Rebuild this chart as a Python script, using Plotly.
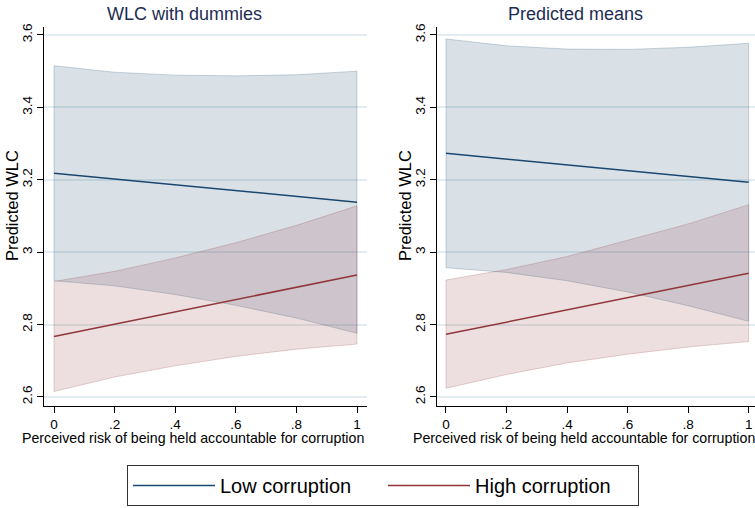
import plotly.graph_objects as go

# ---------------- data ----------------
x_vals = [0, 0.2, 0.4, 0.6, 0.8, 1.0]

# Left panel: "WLC with dummies"
left_low_fit = [3.218, 3.202, 3.186, 3.170, 3.154, 3.138]
left_low_upper = [3.515, 3.497, 3.489, 3.487, 3.490, 3.500]
left_low_lower = [2.921, 2.907, 2.883, 2.853, 2.818, 2.776]
left_high_fit = [2.767, 2.801, 2.835, 2.869, 2.903, 2.937]
left_high_upper = [2.919, 2.947, 2.984, 3.026, 3.074, 3.128]
left_high_lower = [2.615, 2.655, 2.686, 2.712, 2.732, 2.746]

# Right panel: "Predicted means"
right_low_fit = [3.273, 3.257, 3.241, 3.225, 3.209, 3.193]
right_low_upper = [3.589, 3.570, 3.561, 3.560, 3.566, 3.577]
right_low_lower = [2.957, 2.944, 2.921, 2.890, 2.852, 2.809]
right_high_fit = [2.773, 2.807, 2.841, 2.875, 2.908, 2.942]
right_high_upper = [2.923, 2.952, 2.988, 3.032, 3.078, 3.131]
right_high_lower = [2.624, 2.662, 2.694, 2.718, 2.738, 2.753]

panel_titles = ["WLC with dummies", "Predicted means"]
series_names = ["Low corruption", "High corruption"]
x_tick_vals = [0, 0.2, 0.4, 0.6, 0.8, 1]
x_tick_text = ["0", ".2", ".4", ".6", ".8", "1"]
y_tick_vals = [2.6, 2.8, 3.0, 3.2, 3.4, 3.6]
y_tick_text = ["2.6", "2.8", "3", "3.2", "3.4", "3.6"]
x_title = "Perceived risk of being held accountable for corruption"
y_title = "Predicted WLC"

# ---------------- style ----------------
NAVY = "#1a476f"
MAROON = "#90353b"
NAVY_FILL = "rgba(26,71,111,0.165)"
MAROON_FILL = "rgba(144,53,59,0.16)"
NAVY_EDGE = "rgba(26,71,111,0.22)"
MAROON_EDGE = "rgba(144,53,59,0.22)"
FONT = "Liberation Sans, Arial, sans-serif"

W, H = 755, 508

fig = go.Figure()

panels = [
    ("x", "y", left_low_fit, left_low_upper, left_low_lower,
     left_high_fit, left_high_upper, left_high_lower),
    ("x2", "y2", right_low_fit, right_low_upper, right_low_lower,
     right_high_fit, right_high_upper, right_high_lower),
]

for i, (xa, ya, lf, lu, ll, hf, hu, hl) in enumerate(panels):
    for up, lo, fill, edge in [(lu, ll, NAVY_FILL, NAVY_EDGE), (hu, hl, MAROON_FILL, MAROON_EDGE)]:
        fig.add_trace(go.Scatter(
            x=list(x_vals) + list(x_vals[::-1]) + [x_vals[0]],
            y=list(up) + list(lo[::-1]) + [up[0]],
            fill="toself", fillcolor=fill, mode="lines",
            line=dict(color=edge, width=1),
            xaxis=xa, yaxis=ya, showlegend=False, hoverinfo="skip"))
    for fit, col, name in [(lf, NAVY, series_names[0]), (hf, MAROON, series_names[1])]:
        fig.add_trace(go.Scatter(
            x=x_vals, y=fit, mode="lines", line=dict(color=col, width=1.5),
            name=name, xaxis=xa, yaxis=ya, showlegend=(i == 0)))

# geometry (pixels)
y_dom = [(H - 406) / H, (H - 27) / H]
left_dom = [44 / W, 367 / W]
right_dom = [437 / W, 1.0]

axis_common = dict(
    showline=True, linecolor="black", linewidth=1.2,
    ticks="outside", ticklen=6, tickcolor="black", tickwidth=1.2,
    tickfont=dict(family=FONT, size=13.5, color="black"),
    zeroline=False, automargin=False,
)

for xa_key, dom, rng in [("xaxis", left_dom, [-0.033, 1.033]), ("xaxis2", right_dom, [-0.0297, 1.021])]:
    fig.layout[xa_key] = dict(
        domain=dom, range=rng, showgrid=False,
        tickvals=x_tick_vals, ticktext=x_tick_text,
        anchor="y" if xa_key == "xaxis" else "y2",
        **axis_common)

for ya_key in ["yaxis", "yaxis2"]:
    fig.layout[ya_key] = dict(
        domain=y_dom, range=[2.575, 3.622],
        showgrid=True, gridcolor="#e3ecf0", gridwidth=1.5,
        tickvals=y_tick_vals, ticktext=y_tick_text, tickangle=-90,
        anchor="x" if ya_key == "yaxis" else "x2",
        **axis_common)

# panel titles and axis titles (one set per panel)
panel_geo = [(184, 193, 12), (575, 584, 405)]  # title centre x, x-title centre x, y-title centre x
for (tcx, xtcx, ytcx), t in zip(panel_geo, panel_titles):
    fig.add_annotation(
        text=t, x=tcx / W, y=(H - 14) / H, xref="paper", yref="paper",
        showarrow=False, xanchor="center", yanchor="middle",
        font=dict(family=FONT, size=18, color="#1e2d53"))
    fig.add_annotation(
        text=x_title, x=xtcx / W, y=(H - 438) / H, xref="paper", yref="paper",
        showarrow=False, xanchor="center", yanchor="middle",
        font=dict(family=FONT, size=14.2, color="black"))
    fig.add_annotation(
        text=y_title, x=ytcx / W, y=(H - 206) / H, xref="paper", yref="paper",
        showarrow=False, xanchor="center", yanchor="middle", textangle=-90,
        font=dict(family=FONT, size=16.5, color="black"))

fig.update_layout(
    width=W, height=H,
    margin=dict(l=0, r=0, t=0, b=0),
    paper_bgcolor="white", plot_bgcolor="white",
    font=dict(family=FONT, color="black"),
    legend=dict(
        orientation="h",
        x=127 / W, xanchor="left",
        y=2 / H, yanchor="bottom",
        bordercolor="#333333", borderwidth=1,
        font=dict(family=FONT, size=20, color="black"),
        itemwidth=82, entrywidth=158, tracegroupgap=0,
    ),
)

fig.write_html(
    "out.html",
    config={"displayModeBar": False},
    post_script="document.body.style.margin='0';document.body.style.overflow='hidden';",
)
